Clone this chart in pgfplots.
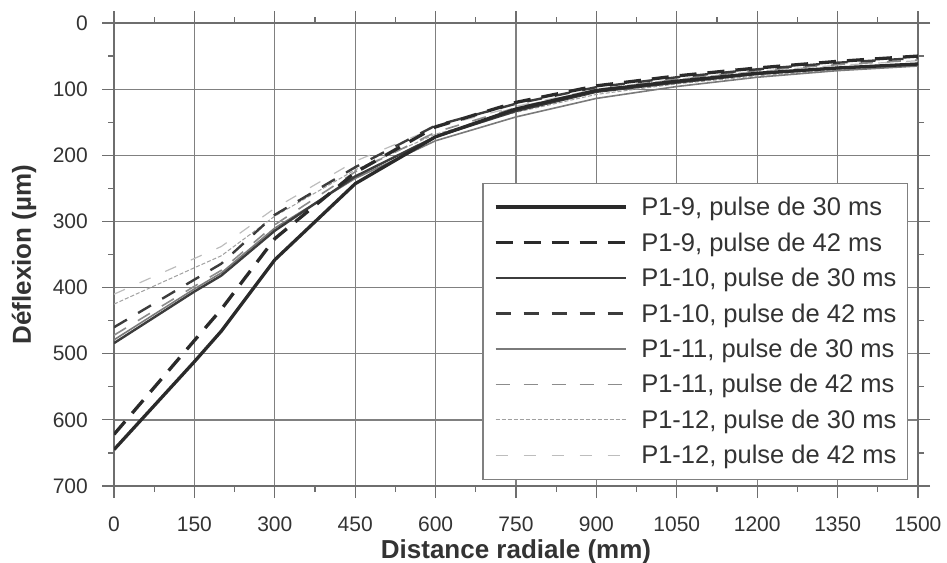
\documentclass[border=0pt]{standalone}
\usepackage{pgfplots}
\pgfplotsset{compat=1.18}
\usepackage{pgfplotstable}
\usepackage{fontspec}
\setmainfont{Liberation Sans}
\definecolor{txt}{HTML}{333333}
\definecolor{gridc}{HTML}{808080}
\definecolor{axc}{HTML}{6E6E6E}
\definecolor{cA}{HTML}{2A2A2A}
\definecolor{cB}{HTML}{3C3C3C}
\definecolor{cC}{HTML}{7A7A7A}
\definecolor{cD}{HTML}{8C8C8C}
\definecolor{cE}{HTML}{A0A0A0}
\definecolor{cF}{HTML}{BDBDBD}
\pgfplotstableread{
x a b c d e f g h
0    645 622 484 460 479 472 425 410
150  512 480 406 388 402 398 370 356
200  466 433 382 364 378 374 352 338
300  358 326 314 290 310 305 292 280
450  243 226 232 218 235 225 222 209
600  172 157 172 155 178 165 168 158
750  130 120 133 122 142 128 135 126
900  102  95 104  97 114 101 108 100
1050  88  80  90  82  96  85  92  85
1200  76  68  77  70  82  72  80  73
1350  68  58  68  60  72  63  71  64
1500  62  50  62  53  65  56  64  57
}\data
\begin{document}
\begin{tikzpicture}
\path[use as bounding box] (0,0) rectangle (947bp,563bp);
\begin{axis}[
  at={(114bp,77bp)}, anchor=south west,
  scale only axis, width=804bp, height=463bp,
  xmin=0, xmax=1500, ymin=0, ymax=700, y dir=reverse,
  xtick={0,150,...,1500}, ytick={0,100,...,700},
  minor x tick num=1, minor y tick num=1,
  tick align=outside,
  major tick length=12bp, minor tick length=6bp,
  every tick/.style={axc, line width=1.2bp},
  grid=major,
  major grid style={gridc, line width=1.3bp},
  axis line style={axc, line width=1.3bp},
  /pgf/number format/assume math mode=true,
  /pgf/number format/1000 sep={},
  tick label style={font=\fontsize{21bp}{25bp}\selectfont, text=txt},
  xticklabel style={anchor=base, inner sep=0pt, yshift=-33bp},
  yticklabel style={anchor=east, inner sep=0pt, xshift=-14bp},
  xlabel={Distance radiale (mm)},
  ylabel={Déflexion (µm)},
  label style={font=\bfseries\fontsize{26bp}{30bp}\selectfont, text=txt, inner sep=0pt},
  xlabel style={at={(axis description cs:0.5,0)}, anchor=base, yshift=-72bp},
  ylabel style={at={(axis description cs:0,0.5)}, anchor=center, yshift=90bp},
  legend style={at={(axis description cs:1,0)}, anchor=south east,
    xshift=-10bp, yshift=6bp, draw=gridc, line width=1.2bp, fill=white,
    inner xsep=11bp, inner ysep=14bp, row sep=15.5bp,
    font=\fontsize{25.5bp}{30bp}\selectfont, text=txt,
    nodes={inner sep=0pt}},
  legend cell align=left,
  legend image code/.code={\draw[#1] (0bp,0bp) -- (130bp,0bp); \path (0bp,-4bp) (144bp,4bp);},
]
\addplot[forget plot, cF, line width=1.2bp, dash pattern=on 12bp off 16bp] table[x=x,y=h]{\data};
\addplot[forget plot, cE, line width=1.0bp, dash pattern=on 4bp off 2bp] table[x=x,y=g]{\data};
\addplot[forget plot, cD, line width=1.6bp, dash pattern=on 14bp off 14bp] table[x=x,y=f]{\data};
\addplot[forget plot, cC, line width=1.6bp] table[x=x,y=e]{\data};
\addplot[forget plot, cB, line width=2.4bp, dash pattern=on 15bp off 13bp] table[x=x,y=d]{\data};
\addplot[forget plot, cB, line width=2.4bp] table[x=x,y=c]{\data};
\addplot[forget plot, cA, line width=3.3bp, dash pattern=on 17bp off 11bp] table[x=x,y=b]{\data};
\addplot[forget plot, cA, line width=3.3bp] table[x=x,y=a]{\data};
\addlegendimage{cA, line width=3.3bp}
\addlegendentry{P1-9, pulse de 30 ms}
\addlegendimage{cA, line width=3.3bp, dash pattern=on 17bp off 11bp}
\addlegendentry{P1-9, pulse de 42 ms}
\addlegendimage{cB, line width=2.4bp}
\addlegendentry{P1-10, pulse de 30 ms}
\addlegendimage{cB, line width=2.4bp, dash pattern=on 15bp off 13bp}
\addlegendentry{P1-10, pulse de 42 ms}
\addlegendimage{cC, line width=1.6bp}
\addlegendentry{P1-11, pulse de 30 ms}
\addlegendimage{cD, line width=1.6bp, dash pattern=on 14bp off 14bp}
\addlegendentry{P1-11, pulse de 42 ms}
\addlegendimage{cE, line width=1.0bp, dash pattern=on 4bp off 2bp}
\addlegendentry{P1-12, pulse de 30 ms}
\addlegendimage{cF, line width=1.2bp, dash pattern=on 12bp off 16bp}
\addlegendentry{P1-12, pulse de 42 ms}
\end{axis}
\end{tikzpicture}
\end{document}
